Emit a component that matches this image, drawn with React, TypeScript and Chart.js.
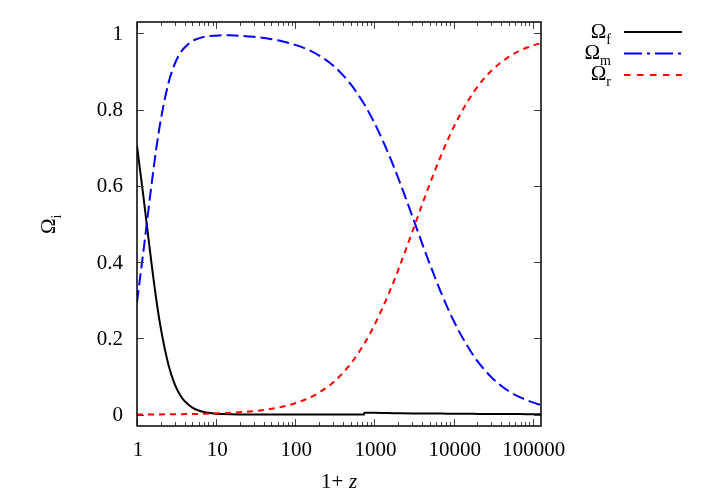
import React, { useEffect, useRef } from "react";
import { Chart, registerables } from "chart.js";

Chart.register(...registerables);

// 1+z sample points (shared by all series)
const onePlusZ = [
  1, 1.1, 1.2, 1.35, 1.5, 1.75, 2, 2.5, 3, 3.5,
  4, 5, 6, 7, 8, 10, 12, 15, 20, 30,
  50, 70, 100, 150, 200, 300, 500, 700, 740, 745,
  1000, 1500, 2000, 3000, 4000, 5000, 7000, 10000, 15000, 20000,
  30000, 50000, 70000, 100000, 127000,
];

const omegaF = [
  0.705, 0.637, 0.575, 0.487, 0.409, 0.303, 0.226, 0.13, 0.0795, 0.0516,
  0.0351, 0.0183, 0.0107, 0.0067, 0.0045, 0.0023, 0.0013, 0.0007, 0.0003, 0.0001,
  0, 0, 0, 0, 0, 0, 0, 0, 0, 0.005,
  0.0045, 0.004, 0.0035, 0.003, 0.003, 0.0025, 0.0025, 0.002, 0.002, 0.0018,
  0.0015, 0.0013, 0.0012, 0.001, 0.001,
];

const omegaM = [
  0.295, 0.363, 0.425, 0.513, 0.591, 0.697, 0.774, 0.87, 0.92, 0.948,
  0.963, 0.98, 0.987, 0.991, 0.993, 0.994, 0.995, 0.995, 0.994, 0.991,
  0.985, 0.979, 0.97, 0.956, 0.942, 0.916, 0.867, 0.823, 0.815, 0.814,
  0.765, 0.685, 0.62, 0.521, 0.449, 0.395, 0.318, 0.246, 0.179, 0.14,
  0.098, 0.061, 0.045, 0.032, 0.025,
];

const omegaR = [
  0.0001, 0.0001, 0.0002, 0.0002, 0.0003, 0.0004, 0.0005, 0.0007, 0.0008, 0.001,
  0.0012, 0.0015, 0.0018, 0.0021, 0.0024, 0.0031, 0.0037, 0.0046, 0.0061, 0.0091,
  0.0151, 0.021, 0.0298, 0.044, 0.0578, 0.0843, 0.133, 0.177, 0.185, 0.186,
  0.235, 0.315, 0.38, 0.479, 0.551, 0.605, 0.682, 0.754, 0.821, 0.86,
  0.902, 0.939, 0.956, 0.968, 0.975,
];

const xTickValues = [1, 10, 100, 1000, 10000, 100000];
const xTickLabels = ["1", "10", "100", "1000", "10000", "100000"];
const yTickValues = [0, 0.2, 0.4, 0.6, 0.8, 1];
const yTickLabels = ["0", "0.2", "0.4", "0.6", "0.8", "1"];

const seriesSubs = ["f", "m", "r"];
const seriesColors = ["#000000", "#0000ff", "#ff0000"];
const plotDashes: number[][] = [[], [12, 5], [6, 5]];
const legendDashes: number[][] = [[], [18, 5, 3, 5], [6.5, 6.5]];

const FONT = '"Liberation Serif", "DejaVu Serif", serif';

const overlay = {
  id: "overlay",
  afterDraw(chart: any) {
    const ctx: CanvasRenderingContext2D = chart.ctx;
    const { left, right, top, bottom } = chart.chartArea;
    const xs = chart.scales.x;
    const ys = chart.scales.y;
    ctx.save();

    // tick marks (inward, all four sides)
    ctx.strokeStyle = "#444";
    ctx.lineWidth = 1;
    ctx.setLineDash([]);
    ctx.beginPath();
    for (let d = 1; d <= 1e6; d *= 10) {
      for (let k = 1; k < 10; k++) {
        const v = d * k;
        if (v < xs.min || v > xs.max) continue;
        const px = Math.round(xs.getPixelForValue(v)) + 0.5;
        const len = k === 1 ? 7 : 4;
        ctx.moveTo(px, bottom);
        ctx.lineTo(px, bottom - len);
        ctx.moveTo(px, top);
        ctx.lineTo(px, top + len);
      }
    }
    yTickValues.forEach((v) => {
      const py = Math.round(ys.getPixelForValue(v)) + 0.5;
      ctx.moveTo(left, py);
      ctx.lineTo(left + 7, py);
      ctx.moveTo(right, py);
      ctx.lineTo(right - 7, py);
    });
    ctx.stroke();

    // frame
    ctx.strokeStyle = "#000";
    ctx.lineWidth = 1.5;
    ctx.strokeRect(left, top, right - left, bottom - top);

    // tick labels
    ctx.fillStyle = "#000";
    ctx.font = `21px ${FONT}`;
    ctx.textAlign = "center";
    ctx.textBaseline = "alphabetic";
    xTickValues.forEach((v, i) => {
      ctx.fillText(xTickLabels[i], xs.getPixelForValue(v) + 1, 456);
    });
    ctx.textAlign = "right";
    ctx.textBaseline = "middle";
    yTickValues.forEach((v, i) => {
      ctx.fillText(yTickLabels[i], 123, ys.getPixelForValue(v) + 1);
    });

    // x title: 1+ z
    ctx.textAlign = "left";
    ctx.textBaseline = "alphabetic";
    ctx.font = `21px ${FONT}`;
    ctx.fillText("1+", 321, 488);
    ctx.font = `italic 21px ${FONT}`;
    ctx.fillText("z", 349, 488);

    // y title: Omega_i rotated
    ctx.save();
    ctx.translate(55, 234);
    ctx.rotate(-Math.PI / 2);
    ctx.font = `21px ${FONT}`;
    ctx.fillText("Ω", 0, 0);
    const wO = ctx.measureText("Ω").width;
    ctx.font = `14px ${FONT}`;
    ctx.fillText("i", wO, 6);
    ctx.restore();

    // legend
    const rowBase = [38, 59, 80];
    const rowLine = [32, 53.5, 75];
    seriesSubs.forEach((s, i) => {
      ctx.font = `21px ${FONT}`;
      const wOm = ctx.measureText("Ω").width;
      ctx.font = `14px ${FONT}`;
      const wS = ctx.measureText(s).width;
      const x0 = 611 - wOm - wS;
      ctx.fillStyle = "#000";
      ctx.textAlign = "left";
      ctx.font = `21px ${FONT}`;
      ctx.fillText("Ω", x0, rowBase[i]);
      ctx.font = `14px ${FONT}`;
      ctx.fillText(s, x0 + wOm, rowBase[i] + 6);
      ctx.beginPath();
      ctx.strokeStyle = seriesColors[i];
      ctx.lineWidth = 2;
      ctx.setLineDash(legendDashes[i]);
      ctx.moveTo(624, rowLine[i]);
      ctx.lineTo(682, rowLine[i]);
      ctx.stroke();
    });
    ctx.setLineDash([]);
    ctx.restore();
  },
};

export default function App() {
  const ref = useRef<HTMLCanvasElement | null>(null);

  useEffect(() => {
    if (!ref.current) return;
    const series = [omegaF, omegaM, omegaR];
    const chart = new Chart(ref.current, {
      type: "line",
      data: {
        datasets: series.map((vals, i) => ({
          label: "Ω" + seriesSubs[i],
          data: onePlusZ.map((x, j) => ({ x, y: vals[j] })),
          borderColor: seriesColors[i],
          borderWidth: 2,
          borderDash: plotDashes[i],
          pointRadius: 0,
          fill: false,
          cubicInterpolationMode: "monotone" as const,
          order: 3 - i,
        })),
      },
      options: {
        animation: false,
        responsive: true,
        maintainAspectRatio: false,
        layout: { padding: { top: 22, right: 167, bottom: 0, left: 0 } },
        plugins: {
          legend: { display: false },
          tooltip: { enabled: false },
        },
        scales: {
          x: {
            type: "logarithmic",
            min: 1,
            max: 127000,
            grid: { display: false, drawTicks: false },
            border: { display: false },
            ticks: { display: false },
            afterFit: (s: any) => {
              s.height = 70;
            },
          },
          y: {
            type: "linear",
            min: -0.03,
            max: 1.03,
            grid: { display: false, drawTicks: false },
            border: { display: false },
            ticks: { display: false },
            afterFit: (s: any) => {
              s.width = 137;
            },
          },
        },
      },
      plugins: [overlay],
    });
    return () => chart.destroy();
  }, []);

  return (
    <div
      style={{
        position: "absolute",
        left: 0,
        top: 0,
        width: 708,
        height: 496,
        background: "#fff",
      }}
    >
      <canvas ref={ref} />
    </div>
  );
}
